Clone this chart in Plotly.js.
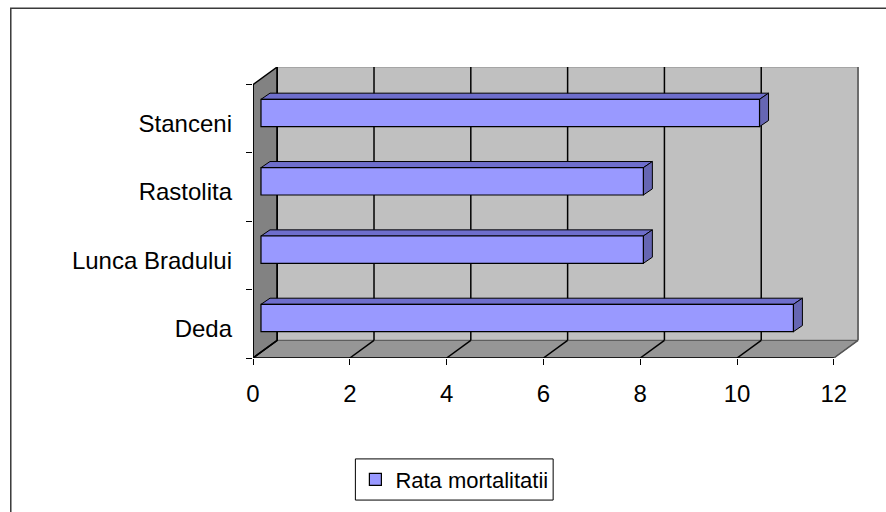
<!DOCTYPE html>
<html>
<head>
<meta charset="utf-8">
<script src="https://cdn.plot.ly/plotly-3.0.1.min.js"></script>
<style>
  html, body { margin: 0; padding: 0; background: #ffffff; }
  #chart { width: 886px; height: 512px; }
</style>
</head>
<body>
<div id="chart"></div>
<script>
// ---- data ----
const categories = ['Deda', 'Lunca Bradului', 'Rastolita', 'Stanceni'];
const values = [11.0, 7.9, 7.9, 10.3];
const seriesName = 'Rata mortalitatii';
const xTickVals = [0, 2, 4, 6, 8, 10, 12];

// ---- geometry (layout only) ----
const W = 886, H = 512;
const L = 252.5, T = 67, PW = 606.7, PH = 297;
const R = W - L - PW, B = H - T - PH;
const XMAX = 12, XR = 12.52;
const DX = 0.5, DY = 0.258;      // wall depth in axis units
const BX = 0.165, BY = 0.085;    // bar front-face depth offset
const TX = 0.186, TY = 0.09;     // bar thickness (depth)
const BW = 0.4;
const LABEL_SHIFT = 0.07;        // category labels sit slightly below band centres
function px(x) { return (x - L) / PW; }
function py(y) { return (T + PH - y) / PH; }

const catIdx = categories.map((c, i) => i);
const shapes = [];

// outer chart frame
shapes.push({type: 'rect', xref: 'paper', yref: 'paper', x0: px(10), x1: px(905), y0: py(530), y1: py(7),
  line: {color: '#3a3a3a', width: 1.5}, fillcolor: 'rgba(0,0,0,0)', layer: 'below'});

// back wall
shapes.push({type: 'rect', xref: 'x', yref: 'y', x0: DX, x1: XMAX + DX, y0: -0.5 + DY, y1: 3.5 + DY,
  fillcolor: '#C0C0C0', line: {color: '#8a8a8a', width: 1}, layer: 'below'});
// floor
shapes.push({type: 'path', xref: 'x', yref: 'y',
  path: `M0,-0.5 L${XMAX},-0.5 L${XMAX + DX},${-0.5 + DY} L${DX},${-0.5 + DY} Z`,
  fillcolor: '#969696', line: {color: '#555555', width: 1}, layer: 'below'});
// left wall
shapes.push({type: 'path', xref: 'x', yref: 'y',
  path: `M0,-0.5 L0,3.5 L${DX},${3.5 + DY} L${DX},${-0.5 + DY} Z`,
  fillcolor: '#828282', line: {color: '#000000', width: 1.5}, layer: 'below'});

// gridlines on back wall and floor
xTickVals.forEach(v => {
  const col = v === XMAX ? '#555555' : '#000000';
  shapes.push({type: 'line', xref: 'x', yref: 'y', x0: v + DX, x1: v + DX, y0: -0.5 + DY, y1: 3.5 + DY,
    line: {color: col, width: 1.5}, layer: 'below'});
  shapes.push({type: 'line', xref: 'x', yref: 'y', x0: v, x1: v + DX, y0: -0.5, y1: -0.5 + DY,
    line: {color: col, width: 1.5}, layer: 'below'});
});
// front axis edges
shapes.push({type: 'line', xref: 'x', yref: 'y', x0: 0, x1: XMAX, y0: -0.5, y1: -0.5,
  line: {color: '#000000', width: 1.5}, layer: 'below'});
shapes.push({type: 'line', xref: 'x', yref: 'y', x0: 0, x1: 0, y0: -0.5, y1: 3.5,
  line: {color: '#000000', width: 1.5}, layer: 'below'});

// 3D faces of the bars (top and end), derived from the data values
catIdx.forEach((yi, i) => {
  const x0 = BX, x1 = BX + values[i];
  const yb = yi - BW / 2 + BY, yt = yb + BW;
  shapes.push({type: 'path', xref: 'x', yref: 'y',
    path: `M${x0},${yt} L${x1},${yt} L${x1 + TX},${yt + TY} L${x0 + TX},${yt + TY} Z`,
    fillcolor: '#6E6ECC', line: {color: '#000000', width: 1}, layer: 'below'});
  shapes.push({type: 'path', xref: 'x', yref: 'y',
    path: `M${x1},${yb} L${x1},${yt} L${x1 + TX},${yt + TY} L${x1 + TX},${yb + TY} Z`,
    fillcolor: '#6666B3', line: {color: '#000000', width: 1}, layer: 'below'});
});

// legend frame
shapes.push({type: 'rect', xref: 'paper', yref: 'paper', x0: px(355), x1: px(553), y0: py(509), y1: py(467),
  line: {color: '#000000', width: 1}, fillcolor: '#ffffff', layer: 'below'});

const font = 'Liberation Sans, Arial, sans-serif';
const FS = 24;

const trace = {
  type: 'bar', orientation: 'h',
  y: catIdx, x: values, base: BX,
  width: BW, offset: -BW / 2 + BY,
  name: seriesName,
  marker: {color: '#9999FF', line: {color: '#000000', width: 1.2}},
  hoverinfo: 'skip'
};

const layout = {
  width: W, height: H,
  margin: {l: L, r: R, t: T, b: B, pad: 0},
  paper_bgcolor: '#ffffff', plot_bgcolor: 'rgba(0,0,0,0)',
  font: {family: font, color: '#000000', size: FS},
  showlegend: true,
  legend: {x: px(355), xanchor: 'left', y: py(488), yanchor: 'middle',
    orientation: 'h', bgcolor: 'rgba(0,0,0,0)', borderwidth: 0,
    font: {family: font, size: 22, color: '#000000'}},
  xaxis: {range: [0, XR], tickvals: xTickVals, ticktext: xTickVals.map(String),
    ticks: 'outside', ticklen: 6, tickwidth: 1, tickcolor: '#000000',
    showgrid: false, zeroline: false, showline: false, fixedrange: true,
    ticklabelstandoff: 8, tickfont: {family: font, size: FS, color: '#000000'}},
  yaxis: {range: [-0.5, 3.5 + DY], tickvals: catIdx.map(v => v - LABEL_SHIFT), ticktext: categories,
    ticks: '', showgrid: false, zeroline: false, showline: false, fixedrange: true,
    ticklabelstandoff: 20, tickfont: {family: font, size: FS, color: '#000000'},
    minor: {tickmode: 'array', tickvals: [-0.5, 0.5, 1.5, 2.5, 3.5], ticks: 'outside',
      ticklen: 6, tickwidth: 1, tickcolor: '#000000', showgrid: false}},
  shapes: shapes
};

Plotly.newPlot('chart', [trace], layout, {displayModeBar: false, staticPlot: true});
</script>
</body>
</html>
